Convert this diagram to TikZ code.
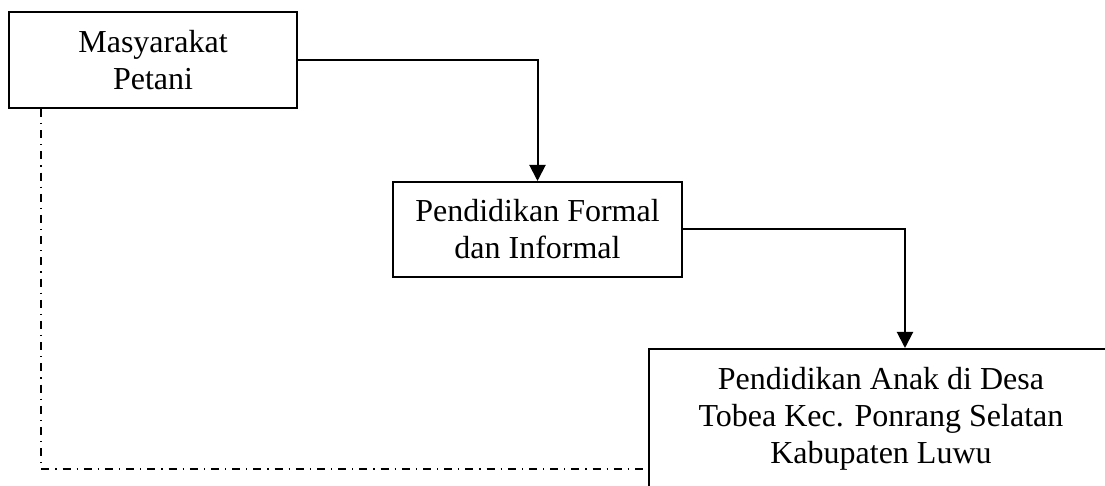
\documentclass[tikz,border=0pt]{standalone}
\usepackage{fontspec}
\setmainfont{Liberation Serif}
\usetikzlibrary{arrows.meta,calc}
\begin{document}
\begin{tikzpicture}[x=0.5pt, y=0.5pt]

\tikzset{drawbox/.style={draw, rectangle, line width=1pt, align=center, font=\fontsize{16}{18.5}\selectfont}}
\tikzset{drawline/.style={line width=1pt, -{Triangle[width=8pt, length=8pt]}}}
\tikzset{dashdotline/.style={line width=0.8pt, dash pattern=on 4pt off 3pt on 0.6pt off 3pt}}

\useasboundingbox (0, 0) rectangle (1105, 486);

% masyarakat, pendidikan, anak
\node[drawbox, minimum width=144pt, minimum height=48pt] at ( 153, 426) (m) {Masyarakat\\Petani};
\node[drawbox, minimum width=144.5pt, minimum height=47.5pt] at (537.5, 256.5) (p) {Pendidikan Formal\\dan Informal};
\node[drawbox, minimum width=232pt, minimum height=69.5pt] at ( 881, 67.5) (a) {Pendidikan Anak di Desa\\Tobea Kec. Ponrang Selatan\\Kabupaten Luwu};

% interactions
\draw[drawline] (m.east) -| (p.north);
\draw[drawline] (p.east) -| ($(a.north)+(24, 0)$);
\coordinate (turn) at (41, 17);
\draw[dashdotline] (m.south -| turn) -- (turn) -- (a.west |- turn);

\end{tikzpicture}
\end{document}
